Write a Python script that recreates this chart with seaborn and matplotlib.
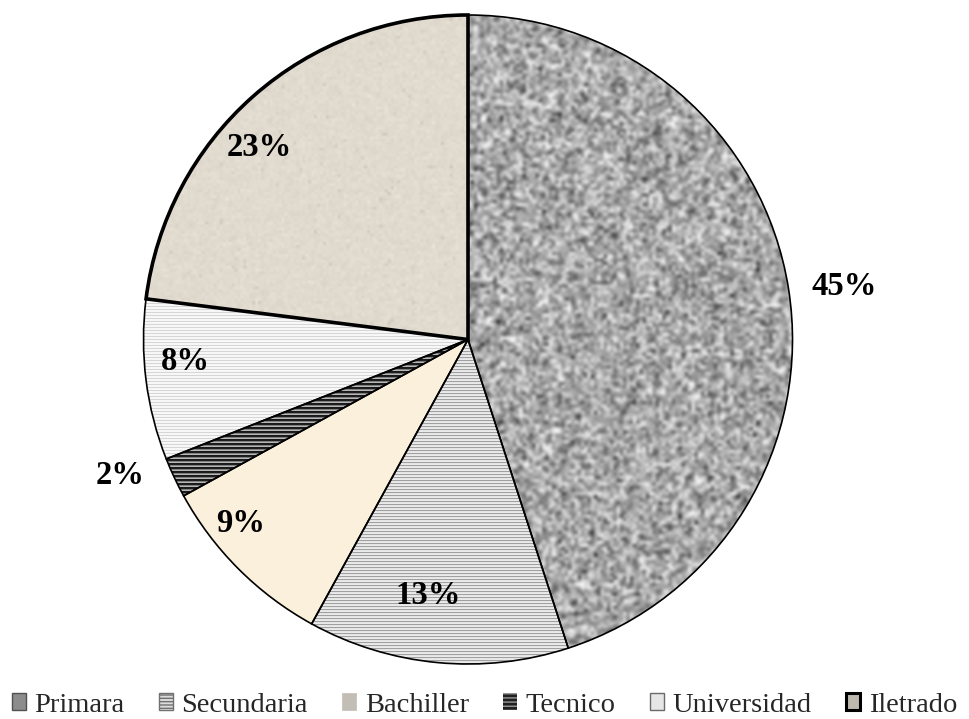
import numpy as np
import matplotlib
matplotlib.use("Agg")
import matplotlib.pyplot as plt
from matplotlib.patches import Wedge, Patch
import seaborn as sns

# Education level of respondents (percent)
categories = ["Primara", "Secundaria", "Bachiller", "Tecnico", "Universidad", "Iletrado"]
shares = [45, 13, 9, 2, 8, 23]

sns.set_theme(style="white")
plt.rcParams["font.family"] = ["Liberation Serif", "DejaVu Serif"]

W, H = 969, 719
fig = plt.figure(figsize=(W / 100, H / 100), dpi=100)
ax = fig.add_axes([0, 0, 1, 1])

CX, CY, R = 468.0, 379.5, 324.5

base = ["#a8a8a8", "#d0d0d0", "#fbf0db", "#3a3a3a", "#ececec", "#e1dacf"]

wedges, _, pct_texts = ax.pie(
    shares, startangle=90, counterclock=False, center=(CX, CY), radius=R,
    colors=base, autopct=lambda p: f"{p:.0f}%", pctdistance=0.8,
    wedgeprops=dict(linewidth=0, edgecolor="none"),
    textprops=dict(fontsize=23.5, fontweight="bold", color="black"),
    frame=True,
)
ax.set_xlim(0, W)
ax.set_ylim(0, H)
ax.axis("off")

extent = (CX - R, CX + R, CY - R, CY + R)
n = int(round(2 * R))
rng = np.random.default_rng(11)


def mottled(level, amp, cells):
    g = np.clip(level + amp * rng.normal(size=(cells, cells)), 0, 1)
    return np.dstack([g, g, g])


def stripes(pattern):
    rows = np.array([pattern[i % len(pattern)] for i in range(n)])
    img = np.repeat(rows[:, None], 4, axis=1)
    return np.dstack([img, img, img])


textures = {
    0: (mottled(0.66, 0.19, 200), "bicubic"),
    1: (stripes([0.63, 0.90, 0.92]), "nearest"),
    3: (stripes([0.10, 0.12, 0.50, 0.72]), "nearest"),
    4: (stripes([0.84, 0.97, 0.97]), "nearest"),
}

# beige paper grain for the last slice
grain = 0.012 * rng.normal(size=(220, 220))
specks = rng.random((220, 220)) < 0.012
grain[specks] -= 0.06
paper = np.dstack([np.clip(c + grain, 0, 1) for c in (0.882, 0.855, 0.812)])
textures[5] = (paper, "bilinear")

for idx, (img, interp) in textures.items():
    im = ax.imshow(img, extent=extent, interpolation=interp, aspect="auto",
                   origin="upper", zorder=2)
    im.set_clip_path(wedges[idx])

# slice outlines
for i, w in enumerate(wedges):
    lw = 2.6 if categories[i] == "Iletrado" else 1.2
    ax.add_patch(Wedge((CX, CY), R, w.theta1, w.theta2, fill=False,
                       edgecolor="black", linewidth=lw, zorder=3 + (i == 5)))

# percentage labels: radial distance and small angular nudge per slice
label_radius = [1.17, 0.80, 0.90, 1.15, 0.875, 0.875]
label_turn = [-1.0, -3.5, -6.0, -3.8, -2.7, 6.0]
for w, t, rf, dt in zip(wedges, pct_texts, label_radius, label_turn):
    mid = np.deg2rad((w.theta1 + w.theta2) / 2 + dt)
    t.set_position((CX + rf * R * np.cos(mid), CY + rf * R * np.sin(mid)))
    t.set_ha("center")
    t.set_va("center")
    t.set_zorder(6)

handles = [
    Patch(facecolor="#8c8c8c", edgecolor="#505050", linewidth=1.0),
    Patch(facecolor="#dcdcdc", edgecolor="#707070", linewidth=1.0, hatch="-----"),
    Patch(facecolor="#c2beb6", edgecolor="#c2beb6", linewidth=0.5),
    Patch(facecolor="#202020", edgecolor="#9a9a9a", linewidth=0.0, hatch="----"),
    Patch(facecolor="#e6e6e6", edgecolor="#6a6a6a", linewidth=1.0),
    Patch(facecolor="#bdb9b1", edgecolor="black", linewidth=2.2),
]
fig.legend(handles, categories, loc="lower center", ncol=6,
           bbox_to_anchor=(0.5, -0.018), frameon=False, fontsize=20.5,
           handlelength=0.5, handleheight=0.5, handletextpad=0.3,
           columnspacing=1.2, borderpad=0.0)

fig.savefig("out.png", dpi=100)
